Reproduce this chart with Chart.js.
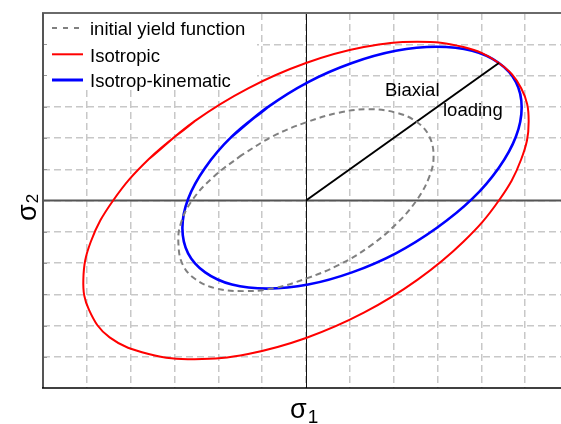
<!DOCTYPE html>
<html>
<head>
<meta charset="utf-8">
<script src="https://cdn.jsdelivr.net/npm/chart.js@4/dist/chart.umd.min.js"></script>
<style>
  html, body { margin: 0; padding: 0; background: #fff; overflow: hidden; width: 561px; height: 424px; }
  canvas { display: block; }
</style>
</head>
<body>
<canvas id="c" width="569" height="424"></canvas>
<script>
// Principal stress pairs (sigma1, sigma2) along each yield surface.
// The solid loops repeat their first two points so the seam is smoothed.
const initialS1 = [-1.46, -2.10, -2.60, -2.86, -2.91, -2.81, -2.52, -2.06, -1.42, -0.75, 0.00, 0.75, 1.46, 2.06, 2.52, 2.81, 2.91, 2.81, 2.52, 2.06, 1.42, 0.75, 0.00, -0.75, -1.46];
const initialS2 = [1.46, 0.77, 0.00, -0.75, -1.40, -2.06, -2.52, -2.81, -2.90, -2.81, -2.50, -2.06, -1.46, -0.75, 0.00, 0.75, 1.40, 2.06, 2.52, 2.81, 2.92, 2.81, 2.50, 2.06, 1.46];

const isoS1 = [-2.54, -3.59, -4.40, -4.91, -5.08, -4.95, -4.48, -3.59, -2.54, -1.32, 0.00, 1.32, 2.54, 3.59, 4.40, 4.91, 5.08, 4.91, 4.40, 3.59, 2.54, 1.32, 0.00, -1.32, -2.54, -3.59];
const isoS2 = [2.54, 1.32, 0.00, -1.32, -2.54, -3.50, -4.38, -4.91, -5.08, -4.91, -4.40, -3.59, -2.54, -1.32, 0.00, 1.32, 2.54, 3.59, 4.40, 4.91, 5.08, 4.91, 4.40, 3.59, 2.54, 1.32];

const kinS1 = [-0.88, -1.69, -2.30, -2.69, -2.82, -2.69, -2.30, -1.69, -0.88, 0.05, 1.05, 2.05, 2.98, 3.79, 4.40, 4.79, 4.92, 4.79, 4.40, 3.79, 2.98, 2.05, 1.05, 0.05, -0.88, -1.69];
const kinS2 = [2.98, 2.05, 1.05, 0.05, -0.88, -1.69, -2.30, -2.69, -2.82, -2.69, -2.30, -1.69, -0.88, 0.05, 1.05, 2.05, 2.98, 3.79, 4.40, 4.79, 4.92, 4.79, 4.40, 3.79, 2.98, 2.05];

// Equal-biaxial load path
const pathS1 = [0, 4.4];
const pathS2 = [0, 4.4];

// Grid positions (stress units)
const gridX = [-5, -4, -3, -2, -1, 0, 1, 2, 3, 4, 5];
const gridY = [-5, -4, -3, -2, -1, 0, 1, 2, 3, 4, 5];

const legendLabels = ['initial yield function', 'Isotropic', 'Isotrop-kinematic'];
const FONT = '"Liberation Sans", Arial, sans-serif';

const pts = (a, b) => a.map((v, i) => ({ x: v, y: b[i] }));

const frame = {
  id: 'frame',
  beforeDatasetsDraw(chart) {
    const { ctx, chartArea: a, scales: { x, y } } = chart;
    ctx.save();
    // legend backing
    ctx.fillStyle = '#fff';
    ctx.fillRect(a.left, a.top, 214, 76);
    // zero axes
    const x0 = Math.round(x.getPixelForValue(0)) + 0.5;
    const y0 = y.getPixelForValue(0);
    ctx.strokeStyle = '#555';
    ctx.lineWidth = 2;
    ctx.beginPath(); ctx.moveTo(a.left, y0); ctx.lineTo(a.right, y0); ctx.stroke();
    ctx.strokeStyle = '#111';
    ctx.lineWidth = 1;
    ctx.beginPath(); ctx.moveTo(x0, a.top); ctx.lineTo(x0, a.bottom); ctx.stroke();
    // inward ticks on the left frame
    ctx.strokeStyle = '#999';
    ctx.lineWidth = 1;
    gridY.forEach(v => {
      const py = Math.round(y.getPixelForValue(v)) + 0.5;
      ctx.beginPath(); ctx.moveTo(a.left, py); ctx.lineTo(a.left + 4, py); ctx.stroke();
    });
    // legend entries
    const rows = [28, 54.3, 80];
    const styles = [
      { c: '#808080', w: 2, d: [5, 6] },
      { c: '#ff0000', w: 2, d: [] },
      { c: '#0000ff', w: 3, d: [] }
    ];
    rows.forEach((ry, i) => {
      ctx.strokeStyle = styles[i].c;
      ctx.lineWidth = styles[i].w;
      ctx.setLineDash(styles[i].d);
      ctx.beginPath(); ctx.moveTo(52, ry); ctx.lineTo(83, ry); ctx.stroke();
      ctx.setLineDash([]);
      ctx.fillStyle = '#000';
      ctx.font = '18.5px ' + FONT;
      ctx.textBaseline = 'alphabetic';
      ctx.fillText(legendLabels[i], 90, ry + 7.3);
    });
    ctx.restore();
  },
  afterDatasetsDraw(chart) {
    const { ctx, chartArea: a } = chart;
    ctx.save();
    // frame
    ctx.lineWidth = 2;
    ctx.strokeStyle = '#6a6a6a';
    ctx.beginPath(); ctx.moveTo(a.left - 1, a.top); ctx.lineTo(a.right, a.top); ctx.stroke();
    ctx.strokeStyle = '#555';
    ctx.beginPath(); ctx.moveTo(a.left, a.top); ctx.lineTo(a.left, a.bottom); ctx.stroke();
    ctx.strokeStyle = '#000';
    ctx.lineWidth = 1.5;
    ctx.beginPath(); ctx.moveTo(a.left - 1, a.bottom); ctx.lineTo(a.right, a.bottom); ctx.stroke();
    // annotation
    ctx.fillStyle = '#000';
    ctx.font = '18.5px ' + FONT;
    ctx.fillText('Biaxial', 385, 96);
    ctx.fillText('loading', 443, 116);
    // axis titles
    ctx.font = '27px ' + FONT;
    ctx.fillText('σ', 290, 418);
    let w = ctx.measureText('σ').width;
    ctx.font = '19px ' + FONT;
    ctx.fillText('1', 290 + w + 1, 423);
    ctx.translate(36, 221);
    ctx.rotate(-Math.PI / 2);
    ctx.font = '27px ' + FONT;
    ctx.fillText('σ', 0, 0);
    w = ctx.measureText('σ').width;
    ctx.font = '17px ' + FONT;
    ctx.fillText('2', w + 1, 2);
    ctx.restore();
  }
};

const gridScale = (ticks) => ({
  type: 'linear',
  ticks: { display: false },
  grid: { color: '#c8c8c8', lineWidth: 1.5, drawTicks: false },
  border: { display: false, dash: [7, 4] },
  afterBuildTicks: s => { s.ticks = ticks.map(v => ({ value: v })); }
});

new Chart(document.getElementById('c'), {
  type: 'scatter',
  data: {
    datasets: [
      { label: legendLabels[0], data: pts(initialS1, initialS2), showLine: true, borderColor: '#808080', borderWidth: 2, borderDash: [6, 4], tension: 0.4, pointRadius: 0 },
      { label: 'path', data: pts(pathS1, pathS2), showLine: true, borderColor: '#000', borderWidth: 2, pointRadius: 0 },
      { label: legendLabels[1], data: pts(isoS1, isoS2), showLine: true, borderColor: '#ff0000', borderWidth: 2, tension: 0.4, pointRadius: 0 },
      { label: legendLabels[2], data: pts(kinS1, kinS2), showLine: true, borderColor: '#0000ff', borderWidth: 2.6, tension: 0.4, pointRadius: 0 }
    ]
  },
  options: {
    responsive: false,
    animation: false,
    devicePixelRatio: 1,
    layout: { padding: { left: 43, top: 13, right: 0, bottom: 36 } },
    plugins: { legend: { display: false }, tooltip: { enabled: false } },
    scales: {
      x: Object.assign(gridScale(gridX), { min: -6, max: 6 }),
      y: Object.assign(gridScale(gridY), { min: -6, max: 6 })
    }
  },
  plugins: [frame]
});
</script>
</body>
</html>
